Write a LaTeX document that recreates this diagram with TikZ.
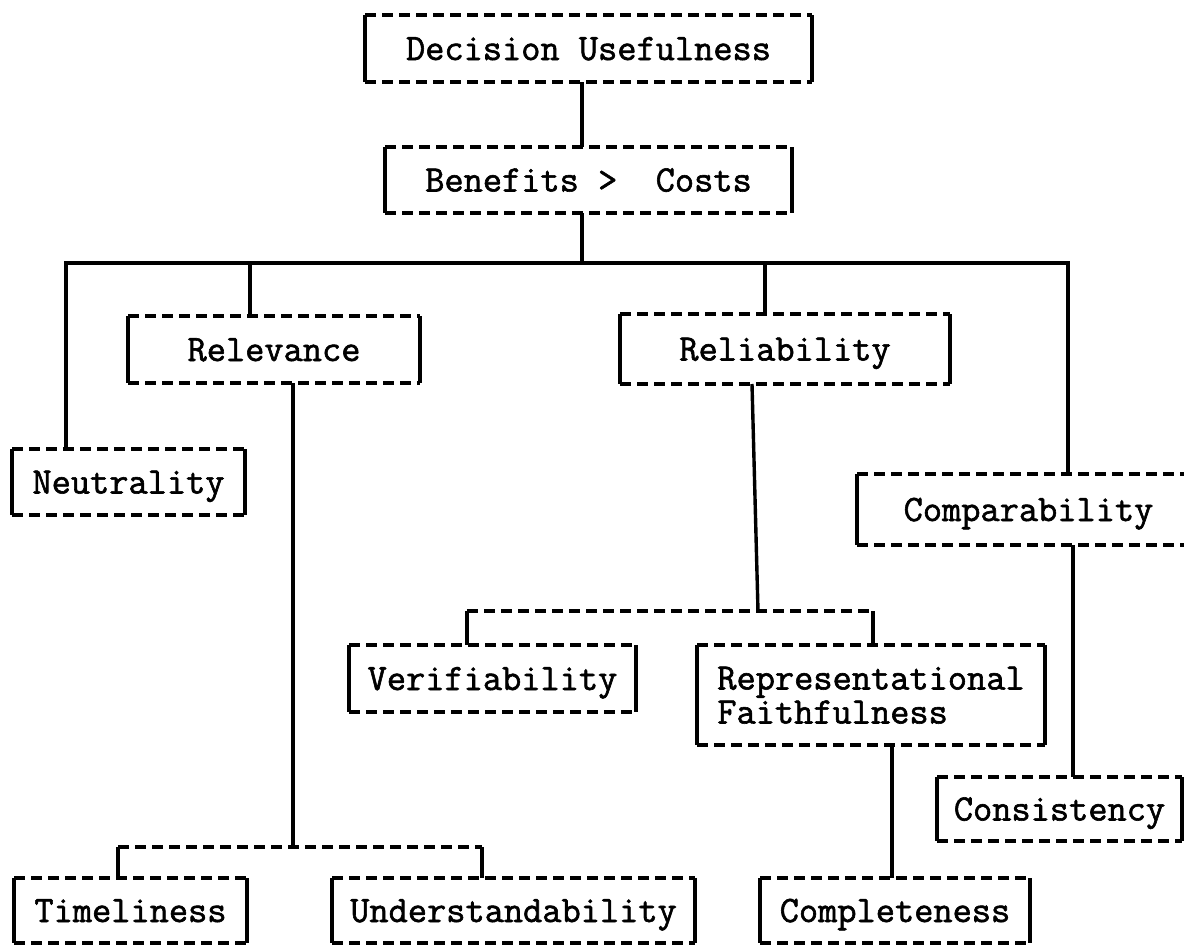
\documentclass[tikz,border=0pt]{standalone}
\usepackage{fontspec}
\setmonofont{Latin Modern Mono}[FakeBold=1.6]
\begin{document}
\begin{tikzpicture}[x=1pt,y=-1pt,
  line width=3.4pt,
  lbl/.style={font=\ttfamily\fontsize{37.3}{34}\selectfont, inner sep=0pt, outer sep=0pt,
    text height=23pt, text depth=0pt},
  twolines/.style={text height=57pt},
  dashline/.style={dash pattern=on 11pt off 6pt},
  ]
\useasboundingbox (0,0) rectangle (1184,945);

% \qbox[options]{name}{left}{right}{top}{bottom}{text}: solid sides, dashed top and bottom
\newcommand\qbox[7][]{%
  \node[lbl, minimum width={(#4-#3)*1pt}, minimum height={(#6-#5)*1pt}, align=left, #1]
    (#2) at ({(#3+#4)/2},{(#5+#6)/2}) {#7};
  \draw (#2.north west) -- (#2.south west);
  \draw (#2.north east) -- (#2.south east);
  \draw[dashline] (#2.north west) -- (#2.north east);
  \draw[dashline] (#2.south west) -- (#2.south east);
}

\qbox{du}{365}{812}{15}{82}{Decision Usefulness}
\qbox{bc}{385}{792}{147}{213}{Benefits >\ \ Costs}
\qbox{rel}{128}{420}{316}{383}{Relevance}
\qbox{rlb}{620}{950}{314}{384}{Reliability}
\qbox{neu}{12}{245}{449}{515}{Neutrality}
\qbox{cmp}{857}{1200}{474}{545}{Comparability}
\qbox{ver}{349}{636}{645}{712}{Verifiability}
\qbox[twolines]{rf}{697}{1045}{645}{745}{Representational\\Faithfulness}
\qbox{con}{937}{1182}{777}{841}{Consistency}
\qbox{tim}{14}{247}{878}{943}{Timeliness}
\qbox{und}{332}{695}{878}{943}{Understandability}
\qbox{cpl}{760}{1030}{878}{943}{Completeness}

% junction points of the tree
\coordinate (trunk) at (582,263);
\coordinate (busL) at (66,263);
\coordinate (busR) at (1068,263);
\coordinate (relleg) at (250,263);
\coordinate (rlbleg) at (765,263);
\coordinate (relfork) at (293,847);
\coordinate (forkL) at (118,847);
\coordinate (forkR) at (482,847);
\coordinate (rlbtop) at (752,0);
\coordinate (rlbfork) at (758,611);
\coordinate (vforkL) at (467,611);
\coordinate (vforkR) at (873,611);
\coordinate (cmpdown) at (1073,0);
\coordinate (rfdown) at (892,0);

% top spine and bus
\draw (du.south -| trunk) -- (bc.north -| trunk);
\draw (bc.south -| trunk) -- (trunk);
\draw (neu.north -| busL) -- (busL) -- (busR) -- (cmp.north -| busR);
\draw (relleg) -- (rel.north -| relleg);
\draw (rlbleg) -- (rlb.north -| rlbleg);

% relevance branch
\draw (rel.south -| relfork) -- (relfork);
\draw[dashline] (forkL) -- (forkR);
\draw (forkL) -- (tim.north -| forkL);
\draw (forkR) -- (und.north -| forkR);

% reliability branch
\draw (rlb.south -| rlbtop) -- (rlbfork);
\draw[dashline] (vforkL) -- (vforkR);
\draw (vforkL) -- (ver.north -| vforkL);
\draw (vforkR) -- (rf.north -| vforkR);
\draw (rf.south -| rfdown) -- (cpl.north -| rfdown);

% comparability branch
\draw (cmp.south -| cmpdown) -- (con.north -| cmpdown);
\end{tikzpicture}
\end{document}
